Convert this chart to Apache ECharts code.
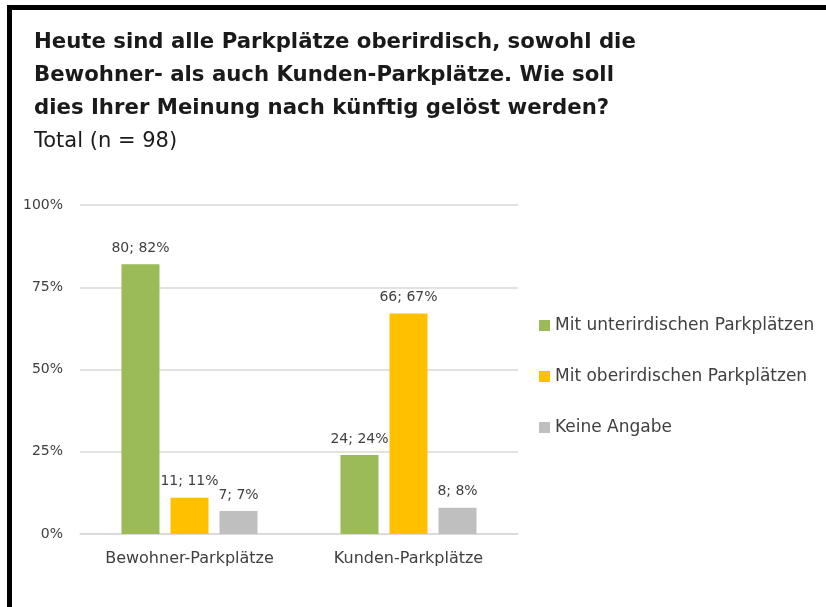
<!DOCTYPE html>
<html>
<head>
<meta charset="utf-8">
<script src="https://cdn.jsdelivr.net/npm/echarts@6/dist/echarts.min.js"></script>
<style>
html,body{margin:0;padding:0;background:#fff;}
#chart{width:826px;height:607px;}
</style>
</head>
<body>
<div id="chart"></div>
<script>
var titleLines = [
  'Heute sind alle Parkplätze oberirdisch, sowohl die',
  'Bewohner- als auch Kunden-Parkplätze. Wie soll',
  'dies Ihrer Meinung nach künftig gelöst werden?'
];
var subtitleText = 'Total (n = 98)';
var categories = ['Bewohner-Parkplätze', 'Kunden-Parkplätze'];
var seriesNames = ['Mit unterirdischen Parkplätzen', 'Mit oberirdischen Parkplätzen', 'Keine Angabe'];
var counts = [
  [80, 24],
  [11, 66],
  [7, 8]
];
var percents = [
  [82, 24],
  [11, 67],
  [7, 8]
];
var yTicks = [0, 25, 50, 75, 100];
var colors = ['#9BBB59', '#FFC000', '#BFBFBF'];

var FONT = 'DejaVu Sans';
var chart = echarts.init(document.getElementById('chart'), null, {renderer: 'canvas'});

var series = seriesNames.map(function (name, i) {
  return {
    name: name,
    type: 'bar',
    barWidth: 38,
    barGap: '29%',
    itemStyle: {color: colors[i]},
    label: {
      show: true,
      position: 'top',
      distance: 9,
      color: '#404040',
      fontFamily: FONT,
      fontSize: 14,
      formatter: function (p) {
        return counts[i][p.dataIndex] + '; ' + p.value + '%';
      }
    },
    data: percents[i]
  };
});

chart.setOption({
  animation: false,
  backgroundColor: '#ffffff',
  graphic: [
    {type: 'rect', shape: {x: 7, y: 5, width: 819, height: 5}, style: {fill: '#000'}},
    {type: 'rect', shape: {x: 7, y: 5, width: 5, height: 602}, style: {fill: '#000'}}
  ],
  title: [
    {
      text: titleLines.join('\n'),
      left: 29,
      top: 21,
      textStyle: {fontFamily: FONT, fontWeight: 'bold', fontSize: 21.25, lineHeight: 33, color: '#1a1a1a'}
    },
    {
      text: subtitleText,
      left: 29,
      top: 122,
      textStyle: {fontFamily: FONT, fontWeight: 'normal', fontSize: 21, lineHeight: 30, color: '#1a1a1a'}
    }
  ],
  legend: {
    orient: 'vertical',
    left: 534,
    top: 312,
    itemWidth: 11,
    itemHeight: 11,
    itemGap: 34,
    icon: 'rect',
    textStyle: {fontFamily: FONT, fontSize: 17, color: '#404040', padding: [0, 0, 0, 0]},
    data: seriesNames
  },
  grid: {left: 80, right: 308, top: 205, bottom: 73, containLabel: false},
  xAxis: {
    type: 'category',
    data: categories,
    axisLine: {show: true, lineStyle: {color: '#d9d9d9', width: 1.5}},
    axisTick: {show: false},
    axisLabel: {interval: 0, color: '#404040', fontFamily: FONT, fontSize: 16, margin: 17}
  },
  yAxis: {
    type: 'value',
    min: yTicks[0],
    max: yTicks[yTicks.length - 1],
    interval: 25,
    axisLine: {show: false},
    axisTick: {show: false},
    splitLine: {lineStyle: {color: '#d9d9d9', width: 1.5}},
    axisLabel: {color: '#404040', fontFamily: FONT, fontSize: 14, margin: 17, formatter: '{value}%'}
  },
  series: series
});
</script>
</body>
</html>
